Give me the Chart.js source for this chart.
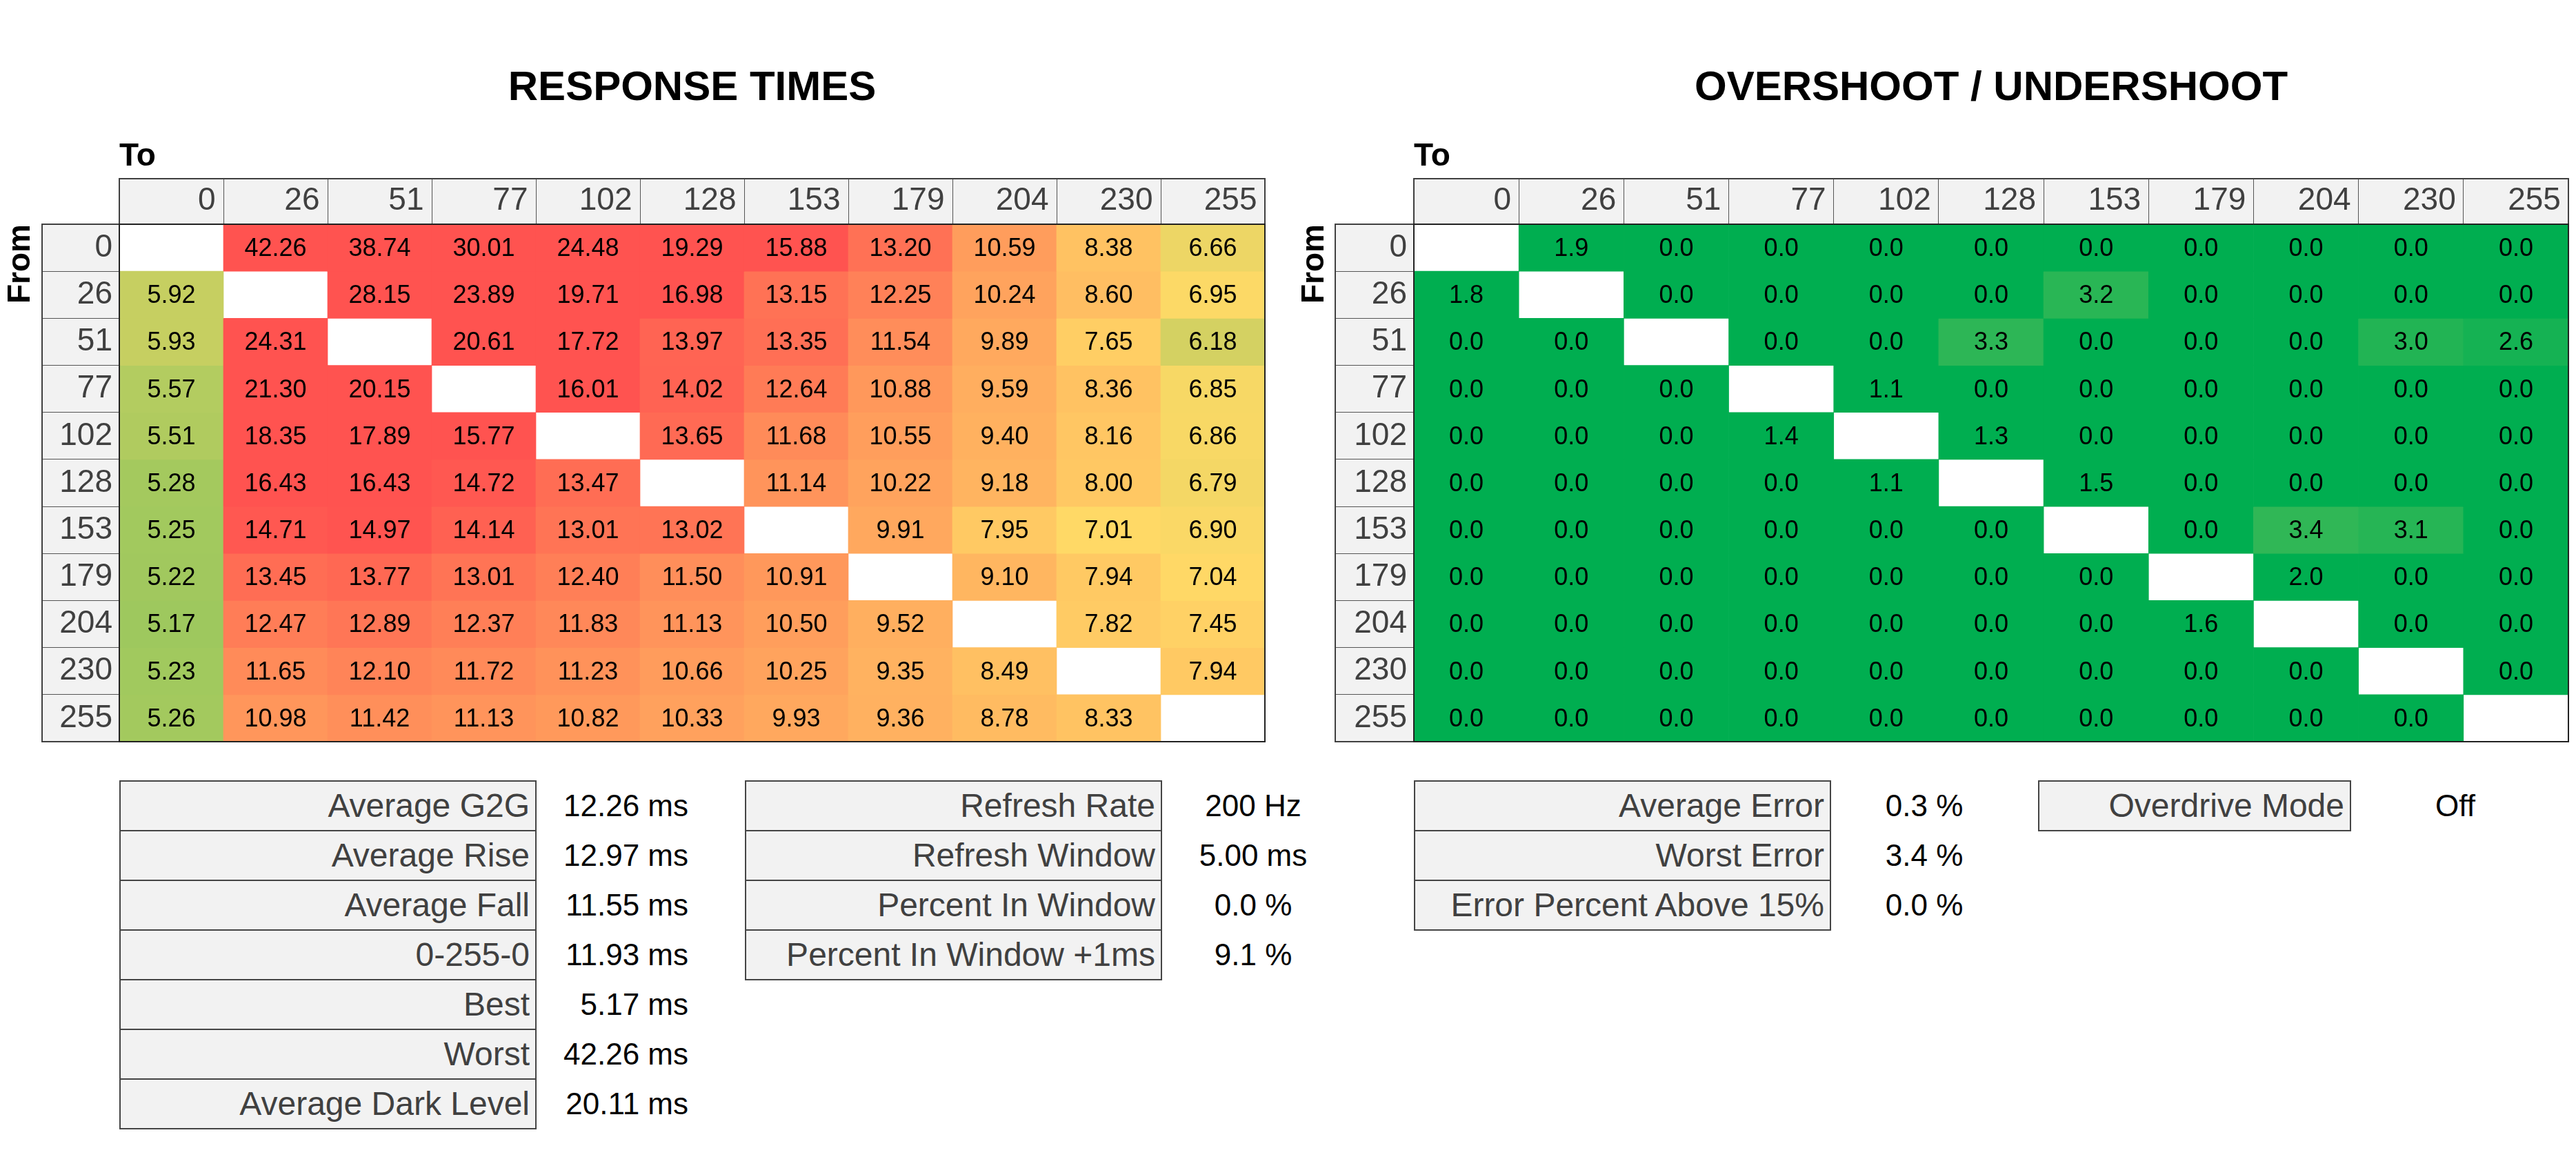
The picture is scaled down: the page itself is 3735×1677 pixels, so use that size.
<!DOCTYPE html>
<html>
<head>
<meta charset="utf-8">
<script src="https://cdn.jsdelivr.net/npm/chart.js@4.4.0/dist/chart.umd.min.js"></script>
<style>
    body {
        margin: 0;
        width: 3735px;
        height: 1677px;
        background: #fff;
        position: relative;
        overflow: hidden;
        font-family: "Liberation Sans", Arial, sans-serif;
    }
    canvas {
        position: absolute;
        top: 0;
    }
    .stat {
        position: absolute;
        box-sizing: border-box;
        height: 74px;
        line-height: 70px;
        background: #f2f2f2;
        border: 2px solid #454545;
        color: #404040;
        font-size: 48px;
        text-align: right;
        padding-right: 8px;
        white-space: nowrap;
    }
    .val {
        position: absolute;
        height: 74px;
        line-height: 74px;
        width: 220px;
        font-size: 44px;
        color: #000;
        white-space: nowrap;
    }
</style>
</head>
<body>
<canvas id="chart_response" width="1870" height="1090" style="left:0"></canvas>
<canvas id="chart_overshoot" width="1865" height="1090" style="left:1870px"></canvas>
<div id="stats"></div>
<script>
const LEVELS = ["0", "26", "51", "77", "102", "128", "153", "179", "204", "230", "255"];

// rows = "From", columns = "To"
const RESPONSE_ROWS = [
    [null, 42.26, 38.74, 30.01, 24.48, 19.29, 15.88, 13.2, 10.59, 8.38, 6.66],
    [5.92, null, 28.15, 23.89, 19.71, 16.98, 13.15, 12.25, 10.24, 8.6, 6.95],
    [5.93, 24.31, null, 20.61, 17.72, 13.97, 13.35, 11.54, 9.89, 7.65, 6.18],
    [5.57, 21.3, 20.15, null, 16.01, 14.02, 12.64, 10.88, 9.59, 8.36, 6.85],
    [5.51, 18.35, 17.89, 15.77, null, 13.65, 11.68, 10.55, 9.4, 8.16, 6.86],
    [5.28, 16.43, 16.43, 14.72, 13.47, null, 11.14, 10.22, 9.18, 8.0, 6.79],
    [5.25, 14.71, 14.97, 14.14, 13.01, 13.02, null, 9.91, 7.95, 7.01, 6.9],
    [5.22, 13.45, 13.77, 13.01, 12.4, 11.5, 10.91, null, 9.1, 7.94, 7.04],
    [5.17, 12.47, 12.89, 12.37, 11.83, 11.13, 10.5, 9.52, null, 7.82, 7.45],
    [5.23, 11.65, 12.1, 11.72, 11.23, 10.66, 10.25, 9.35, 8.49, null, 7.94],
    [5.26, 10.98, 11.42, 11.13, 10.82, 10.33, 9.93, 9.36, 8.78, 8.33, null],
];

const OVERSHOOT_ROWS = [
    [null, 1.9, 0, 0, 0, 0, 0, 0, 0, 0, 0],
    [1.8, null, 0, 0, 0, 0, 3.2, 0, 0, 0, 0],
    [0, 0, null, 0, 0, 3.3, 0, 0, 0, 3.0, 2.6],
    [0, 0, 0, null, 1.1, 0, 0, 0, 0, 0, 0],
    [0, 0, 0, 1.4, null, 1.3, 0, 0, 0, 0, 0],
    [0, 0, 0, 0, 1.1, null, 1.5, 0, 0, 0, 0],
    [0, 0, 0, 0, 0, 0, null, 0, 3.4, 3.1, 0],
    [0, 0, 0, 0, 0, 0, 0, null, 2.0, 0, 0],
    [0, 0, 0, 0, 0, 0, 0, 1.6, null, 0, 0],
    [0, 0, 0, 0, 0, 0, 0, 0, 0, null, 0],
    [0, 0, 0, 0, 0, 0, 0, 0, 0, 0, null],
];

const RT_STAT_LABELS = ["Average G2G", "Average Rise", "Average Fall", "0-255-0", "Best", "Worst", "Average Dark Level"];
const RT_STAT_VALUES = ["12.26 ms", "12.97 ms", "11.55 ms", "11.93 ms", "5.17 ms", "42.26 ms", "20.11 ms"];
const REFRESH_LABELS = ["Refresh Rate", "Refresh Window", "Percent In Window", "Percent In Window +1ms"];
const REFRESH_VALUES = ["200 Hz", "5.00 ms", "0.0 %", "9.1 %"];
const ERROR_LABELS = ["Average Error", "Worst Error", "Error Percent Above 15%"];
const ERROR_VALUES = ["0.3 %", "3.4 %", "0.0 %"];
const OD_LABELS = ["Overdrive Mode"];
const OD_VALUES = ["Off"];

const FONT = "'Liberation Sans', Arial, sans-serif";
const N = LEVELS.length;

const mix = (a, b, t) => a.map((c, i) => Math.round(c + (b[i] - c) * t));
const rgb = (c) => `rgb(${c.join(",")})`;

const rtMin = Math.min(...RESPONSE_ROWS.flat().filter((v) => v !== null));
const responseColor = (v) => {
    const green = [158, 200, 94];
    const yellow = [255, 217, 102];
    const red = [255, 83, 80];
    if (v <= 7) return rgb(mix(green, yellow, Math.max(0, (v - rtMin) / (7 - rtMin))));
    return rgb(mix(yellow, red, Math.min(1, (v - 7) / 8)));
};

const overshootColor = (v) => {
    const t = Math.min(1, Math.max(0, (v - 2) / 1.4));
    return rgb(mix([0, 174, 80], [48, 183, 86], t));
};

// draws the grey header row / label column and the table outlines
const tableFrame = {
    id: "tableFrame",
    beforeDraw(chart) {
        const { ctx, chartArea: a, scales } = chart;
        const hh = scales.x.options.grid.tickLength;
        const lw = scales.y.options.grid.tickLength;
        ctx.save();
        ctx.fillStyle = "#f2f2f2";
        ctx.fillRect(a.left, a.top - hh, a.width, hh);
        ctx.fillRect(a.left - lw, a.top, lw, a.height);
        ctx.restore();
    },
    afterDraw(chart) {
        const { ctx, chartArea: a, scales } = chart;
        const hh = scales.x.options.grid.tickLength;
        const lw = scales.y.options.grid.tickLength;
        ctx.save();
        ctx.strokeStyle = "#404040";
        ctx.lineWidth = 2;
        ctx.strokeRect(a.left, a.top - hh, a.width, hh);
        ctx.strokeRect(a.left - lw, a.top, lw, a.height);
        ctx.strokeStyle = "#222";
        ctx.strokeRect(a.left, a.top, a.width, a.height);
        ctx.restore();
    },
};

const cellLabels = {
    id: "cellLabels",
    afterDatasetsDraw(chart, args, opts) {
        const ctx = chart.ctx;
        ctx.save();
        ctx.font = `36px ${FONT}`;
        ctx.fillStyle = "#000";
        ctx.textAlign = "center";
        ctx.textBaseline = "middle";
        chart.data.datasets.forEach((ds, i) => {
            chart.getDatasetMeta(i).data.forEach((bar, j) => {
                const v = ds.values[j];
                if (v === null) return;
                const p = bar.getCenterPoint();
                ctx.fillText(v.toFixed(opts.decimals), p.x, p.y + 2);
            });
        });
        ctx.restore();
    },
};

const makeTable = (canvasId, cfg) => {
    // first "From" row sits at the top: row r spans [N - r - 1, N - r]
    const datasets = cfg.rows.map((row, r) => ({
        label: LEVELS[r],
        values: row,
        data: row.map((v) => (v === null ? null : [N - r - 1, N - r])),
        backgroundColor: row.map((v) => (v === null ? "#fff" : cfg.color(v))),
        borderWidth: 0,
        barPercentage: 1,
        categoryPercentage: 1,
        grouped: false,
    }));

    return new Chart(document.getElementById(canvasId), {
        type: "bar",
        data: { labels: LEVELS, datasets: datasets },
        plugins: [tableFrame, cellLabels],
        options: {
            responsive: false,
            devicePixelRatio: 1,
            animation: false,
            events: [],
            layout: { padding: { top: 0, left: 0, right: cfg.padRight, bottom: 15 } },
            plugins: {
                legend: { display: false },
                tooltip: { enabled: false },
                title: {
                    display: true,
                    text: cfg.title,
                    fullSize: false,
                    color: "#000",
                    font: { family: FONT, size: 60, weight: "bold" },
                    padding: { top: 92, bottom: 36 },
                },
                cellLabels: { decimals: cfg.decimals },
            },
            scales: {
                x: {
                    type: "category",
                    position: "top",
                    offset: true,
                    afterFit: (axis) => {
                        axis.height = 125;
                    },
                    title: {
                        display: true,
                        text: "To",
                        align: "start",
                        color: "#000",
                        font: { family: FONT, size: 46, weight: "bold" },
                        padding: 0,
                    },
                    grid: {
                        offset: true,
                        drawOnChartArea: false,
                        drawTicks: true,
                        tickLength: 66,
                        color: "#555",
                        lineWidth: 1,
                    },
                    border: { display: true, color: "#333", width: 2 },
                    ticks: {
                        align: "end",
                        labelOffset: cfg.labelOffset,
                        padding: -60,
                        autoSkip: false,
                        maxRotation: 0,
                        color: "#404040",
                        font: { family: FONT, size: 46 },
                    },
                },
                y: {
                    type: "linear",
                    min: 0,
                    max: N,
                    afterFit: (axis) => {
                        axis.width = cfg.axisWidth;
                    },
                    afterBuildTicks: (axis) => {
                        axis.ticks = LEVELS.map((_, i) => ({ value: i + 0.5 }));
                    },
                    title: {
                        display: true,
                        text: "From",
                        align: "end",
                        color: "#000",
                        font: { family: FONT, size: 46, weight: "bold" },
                        padding: { top: cfg.fromPad, bottom: 0 },
                    },
                    grid: {
                        offset: true,
                        drawOnChartArea: false,
                        drawTicks: true,
                        tickLength: cfg.labelWidth,
                        color: "#555",
                        lineWidth: 1,
                    },
                    border: { display: true, color: "#333", width: 2 },
                    ticks: {
                        autoSkip: false,
                        padding: 10 - cfg.labelWidth,
                        color: "#404040",
                        font: { family: FONT, size: 46 },
                        callback: (value, index) => LEVELS[N - 1 - index],
                    },
                },
            },
        },
    });
};

const responseChart = makeTable("chart_response", {
    rows: RESPONSE_ROWS,
    color: responseColor,
    decimals: 2,
    title: "RESPONSE TIMES",
    axisWidth: 173,
    labelWidth: 112,
    labelOffset: 64,
    padRight: 36,
    fromPad: 3,
});

const overshootChart = makeTable("chart_overshoot", {
    rows: OVERSHOOT_ROWS,
    color: overshootColor,
    decimals: 1,
    title: "OVERSHOOT / UNDERSHOOT",
    axisWidth: 180,
    labelWidth: 114,
    labelOffset: 65,
    padRight: 11,
    fromPad: 9,
});

// stat boxes under the tables
const stats = document.getElementById("stats");
const addStats = (labels, values, box, val) => {
    labels.forEach((label, i) => {
        const top = 1131 + i * 72;
        const b = document.createElement("div");
        b.className = "stat";
        b.style.left = box.left + "px";
        b.style.width = box.width + "px";
        b.style.top = top + "px";
        b.textContent = label;
        stats.appendChild(b);

        const v = document.createElement("div");
        v.className = "val";
        v.style.left = val.left + "px";
        v.style.top = top + "px";
        v.style.textAlign = val.align;
        v.textContent = values[i];
        stats.appendChild(v);
    });
};

addStats(RT_STAT_LABELS, RT_STAT_VALUES, { left: 173, width: 605 }, { left: 778, align: "right" });
addStats(REFRESH_LABELS, REFRESH_VALUES, { left: 1080, width: 605 }, { left: 1707, align: "center" });
addStats(ERROR_LABELS, ERROR_VALUES, { left: 2050, width: 605 }, { left: 2680, align: "center" });
addStats(OD_LABELS, OD_VALUES, { left: 2955, width: 454 }, { left: 3450, align: "center" });
</script>
</body>
</html>
